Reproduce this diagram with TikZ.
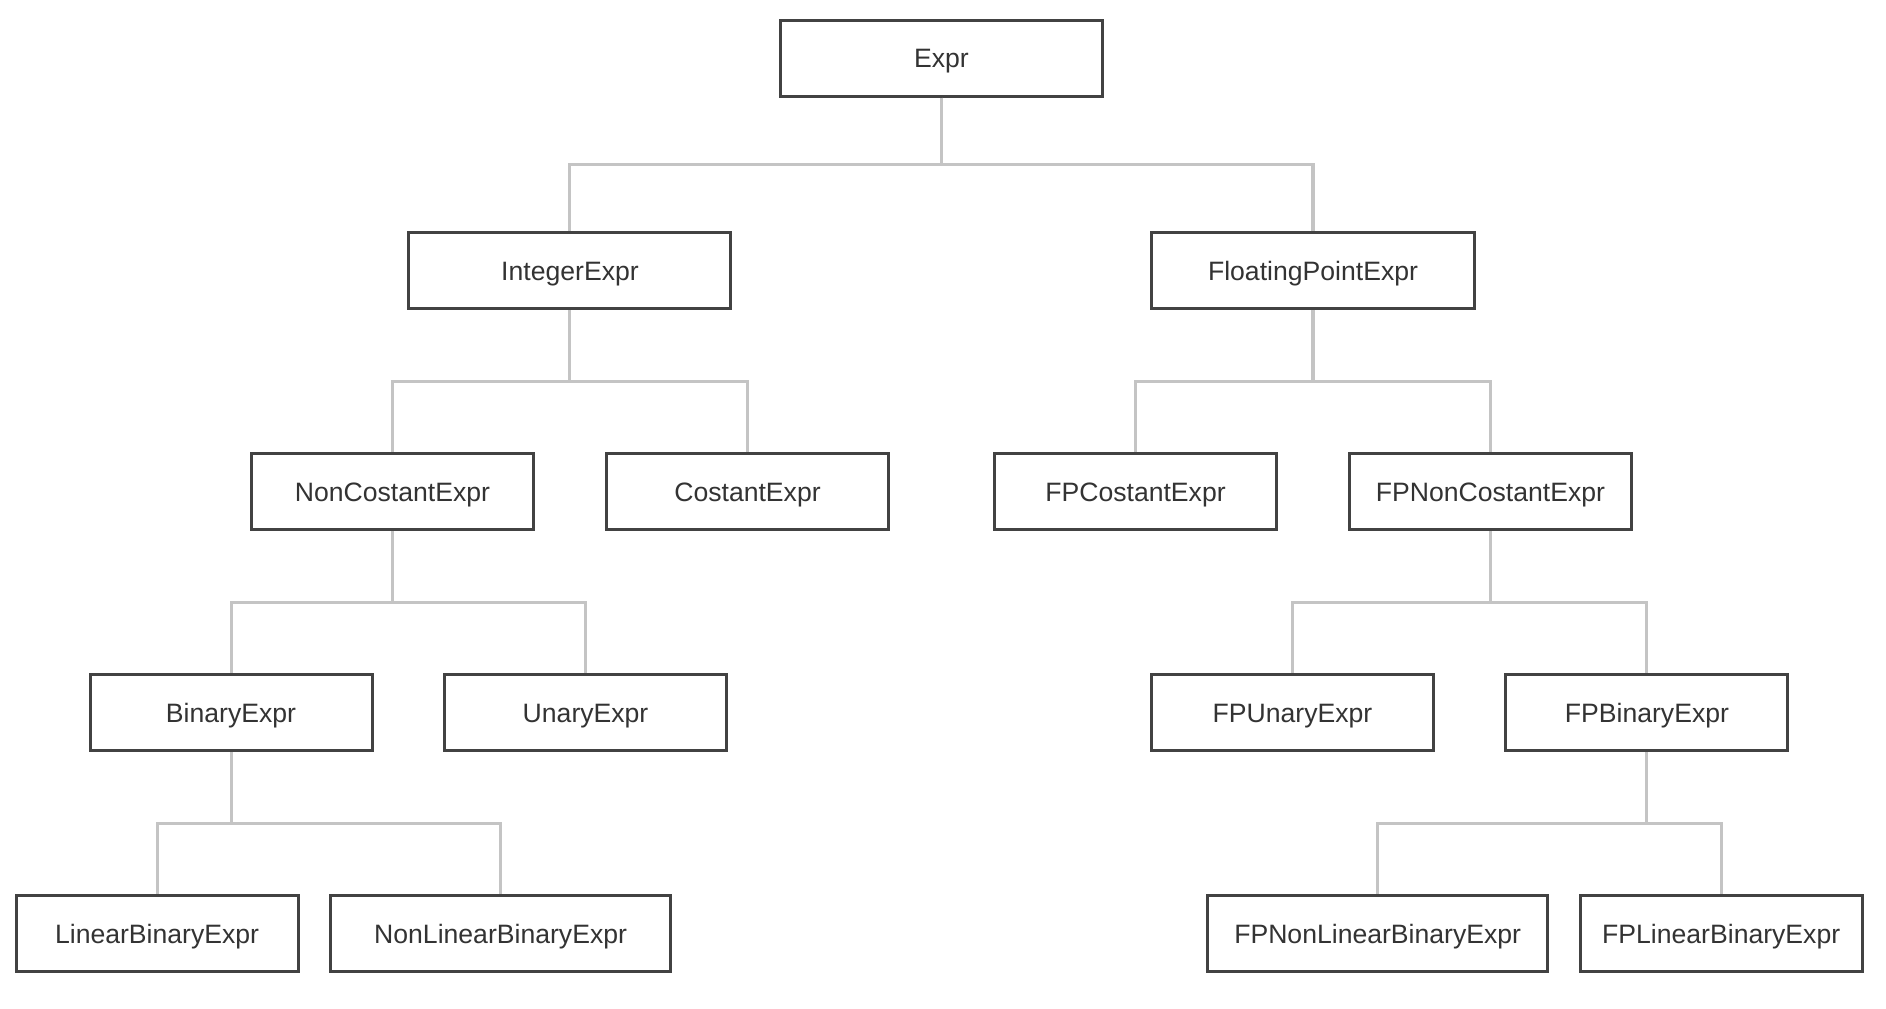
\documentclass[tikz,border=0pt]{standalone}
\usepackage{fontspec}
\setmainfont{Liberation Sans}
\usepackage{tikz}
\usetikzlibrary{calc}

\definecolor{boxgray}{HTML}{424242}
\definecolor{textgray}{HTML}{333333}
\definecolor{linegray}{HTML}{C4C4C4}

\tikzset{
    exprbox/.style = {draw=boxgray, line width=1.5pt, fill=white, text=textgray,
        minimum width=141pt, minimum height=38pt, inner sep=0pt,
        text height=9.5pt, text depth=0pt,
        font=\fontsize{13.3}{16}\selectfont},
    topbox/.style = {exprbox, minimum width=161pt},
    widebox/.style = {exprbox, minimum width=170pt},
    edge from parent/.style = {draw=linegray, line width=1.5pt},
    edge from parent path = {(\tikzparentnode.south) |- ($(\tikzparentnode.south)!0.5!(\tikzchildnode.north)$) -| (\tikzchildnode.north)}
}

\begin{document}
\begin{tikzpicture}
    \useasboundingbox (-470.75pt,29pt) rectangle (472.25pt,-475pt);
        \node (expr) [topbox] {Expr}[sibling distance = 371.5pt][level distance = 106.4pt]
            child {node (intexpr) [topbox] {IntegerExpr}[sibling distance = 177.5pt][level distance = 110.5pt]
                child {node (noncostexpr) [exprbox] {NonCostantExpr}[sibling distance = 177.25pt]
                    child[xshift = 7.9pt] {node (binexpr) [exprbox] {BinaryExpr}[sibling distance = 171.75pt]
                        child[xshift = 48.9pt] {node (linbinexpr) [exprbox] {LinearBinaryExpr}}
                        child[xshift = 48.9pt] {node (nonlinbinexpr) [widebox] {NonLinearBinaryExpr}}}
                    child[xshift = 7.9pt] {node (unexpr) [exprbox] {UnaryExpr}}}
                child {node (costexpr) [exprbox] {CostantExpr}}}
            child {node (fpexpr) [topbox] {FloatingPointExpr}[sibling distance = 177.5pt][level distance = 110.5pt]
                child {node (fpcostexpr) [exprbox] {FPCostantExpr}}
                child {node (fpnoncostexpr) [exprbox] {FPNonCostantExpr}[sibling distance = 177.25pt]
                    child[xshift = -10.4pt] {node (fpunexpr) [exprbox] {FPUnaryExpr}}
                    child[xshift = -10.4pt] {node (fpbinexpr) [exprbox] {FPBinaryExpr}[sibling distance = 171.75pt]
                        child[xshift = -48.75pt] {node (fpnonlinbinexpr) [widebox] {FPNonLinearBinaryExpr}}
                        child[xshift = -48.75pt] {node (fplinbinexpr) [exprbox] {FPLinearBinaryExpr}}}}};
    \end{tikzpicture}
\end{document}
